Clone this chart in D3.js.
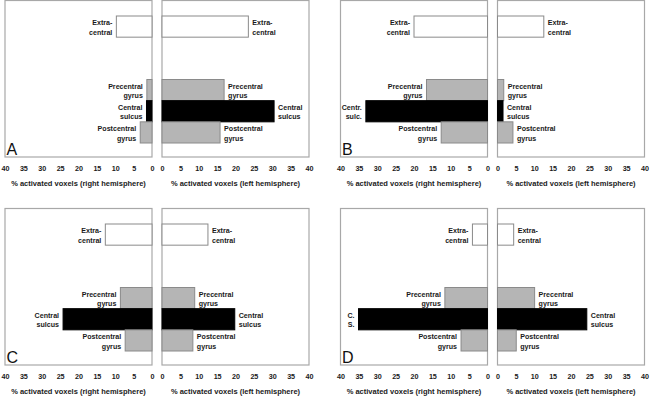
<!DOCTYPE html>
<html>
<head>
<meta charset="utf-8">
<script src="https://cdn.jsdelivr.net/npm/d3@7"></script>
<style>
  body { margin: 0; background: #fff; }
  svg { display: block; font-family: "Liberation Sans", Arial, sans-serif; }
  .lbl { font-size: 7.1px; font-weight: bold; fill: #1a1a1a; }
  .axis text { font-size: 7.2px; font-weight: bold; fill: #1a1a1a; font-family: "Liberation Sans", Arial, sans-serif; }
  .title { font-size: 7.5px; font-weight: bold; fill: #1a1a1a; }
</style>
</head>
<body>
<svg id="chart" width="650" height="398"></svg>
<script>
var width = 650, height = 398
var panelW = 147, gapW = 10, frameH = 156.5

// rows of every panel, top to bottom (two empty rows between extra-central and precentral)
var slots = ["extra", "gap1", "gap2", "pre", "cs", "post"]
var regions = ["extra", "pre", "cs", "post"]
var regionFill = {extra: "#ffffff", pre: "#b5b5b5", cs: "#000000", post: "#b5b5b5"}
var regionStroke = {extra: "#8a8a8a", pre: "#8a8a8a", cs: "#000000", post: "#8a8a8a"}

var defaultLabels = {extra: ["Extra-", "central"], pre: ["Precentral", "gyrus"],
                     cs: ["Central", "sulcus"], post: ["Postcentral", "gyrus"]}

var ticks = [0, 5, 10, 15, 20, 25, 30, 35, 40]
var panelNames = ["A", "B", "C", "D"]

// % activated voxels, order: extra, pre, cs, post
var rightA = [9.7, 1.4, 1.5, 3.2],   leftA = [23.5, 16.9, 30.5, 15.8]
var rightB = [20.0, 16.6, 33.1, 12.6], leftB = [12.6, 1.7, 1.5, 4.2]
var rightC = [12.7, 8.6, 24.2, 7.3],  leftC = [12.5, 8.9, 19.8, 8.4]
var rightD = [4.1, 11.6, 35.1, 7.2],  leftD = [4.4, 10.1, 24.3, 5.1]

// short central-sulcus labels used where the bar gets long
var csLabelB = ["Centr.", "sulc."]
var csLabelD = ["C.", "S."]

var panels = [
  {name: "A", x: 0,     y: 0,   right: rightA, left: leftA, csRight: defaultLabels.cs},
  {name: "B", x: 335.5, y: 0,   right: rightB, left: leftB, csRight: csLabelB},
  {name: "C", x: 0,     y: 208, right: rightC, left: leftC, csRight: defaultLabels.cs},
  {name: "D", x: 335.5, y: 208, right: rightD, left: leftD, csRight: csLabelD}
]

var svg = d3.select("#chart")

panels.forEach(function(p) {
  var g = svg.append("g").attr("transform", "translate(" + p.x + "," + p.y + ")")

  var y = d3.scaleBand().domain(slots).range([16, 143]).padding(0)

  // right hemisphere, mirrored
  var xR = d3.scaleLinear().domain([0, 40]).range([5 + panelW, 5])
  // left hemisphere
  var xL = d3.scaleLinear().domain([0, 40]).range([5 + panelW + gapW, 5 + 2 * panelW + gapW])

  var halves = [
    {x: xR, vals: p.right, side: "right", title: "% activated voxels (right hemisphere)"},
    {x: xL, vals: p.left, side: "left", title: "% activated voxels (left hemisphere)"}
  ]

  halves.forEach(function(h) {
    var x0 = d3.min(h.x.range()), x1 = d3.max(h.x.range())

    g.append("rect")
      .attr("x", x0).attr("y", 0.5)
      .attr("width", x1 - x0).attr("height", frameH)
      .attr("fill", "none").attr("stroke", "#a8a8a8").attr("stroke-width", 1.2)

    var rows = regions.map(function(r, i) { return {key: r, value: h.vals[i]} })

    g.selectAll(".bar-" + h.side)
      .data(rows)
      .enter().append("rect")
      .attr("x", d => Math.min(h.x(0), h.x(d.value)))
      .attr("y", d => y(d.key))
      .attr("width", d => Math.abs(h.x(d.value) - h.x(0)))
      .attr("height", y.bandwidth())
      .attr("fill", d => regionFill[d.key])
      .attr("stroke", d => regionStroke[d.key])
      .attr("stroke-width", 1)

    rows.forEach(function(d) {
      var lines = defaultLabels[d.key]
      if (d.key == "cs" && h.side == "right") lines = p.csRight
      var end = h.x(d.value)
      var tx = h.side == "right" ? end - 4 : end + 4
      var cy = y(d.key) + y.bandwidth() / 2 + 1
      var t = g.append("text")
        .attr("class", "lbl")
        .attr("text-anchor", h.side == "right" ? "end" : "start")
      lines.forEach(function(line, i) {
        t.append("tspan")
          .attr("x", tx)
          .attr("y", cy + (i - 0.5) * 9.2)
          .attr("dy", "0.35em")
          .text(line)
      })
    })

    var axis = g.append("g")
      .attr("class", "axis")
      .attr("transform", "translate(0," + (frameH + 0.5) + ")")
      .call(d3.axisBottom(h.x).tickValues(ticks).tickSize(0).tickPadding(9))
    axis.select(".domain").remove()

    g.append("text")
      .attr("class", "title")
      .attr("x", (x0 + x1) / 2)
      .attr("y", frameH + 29)
      .attr("text-anchor", "middle")
      .text(h.title)
  })

  g.append("text")
    .attr("x", 6.5)
    .attr("y", frameH - 1.5)
    .style("font-size", "16px")
    .style("fill", "#111")
    .text(p.name)
})
</script>
</body>
</html>
